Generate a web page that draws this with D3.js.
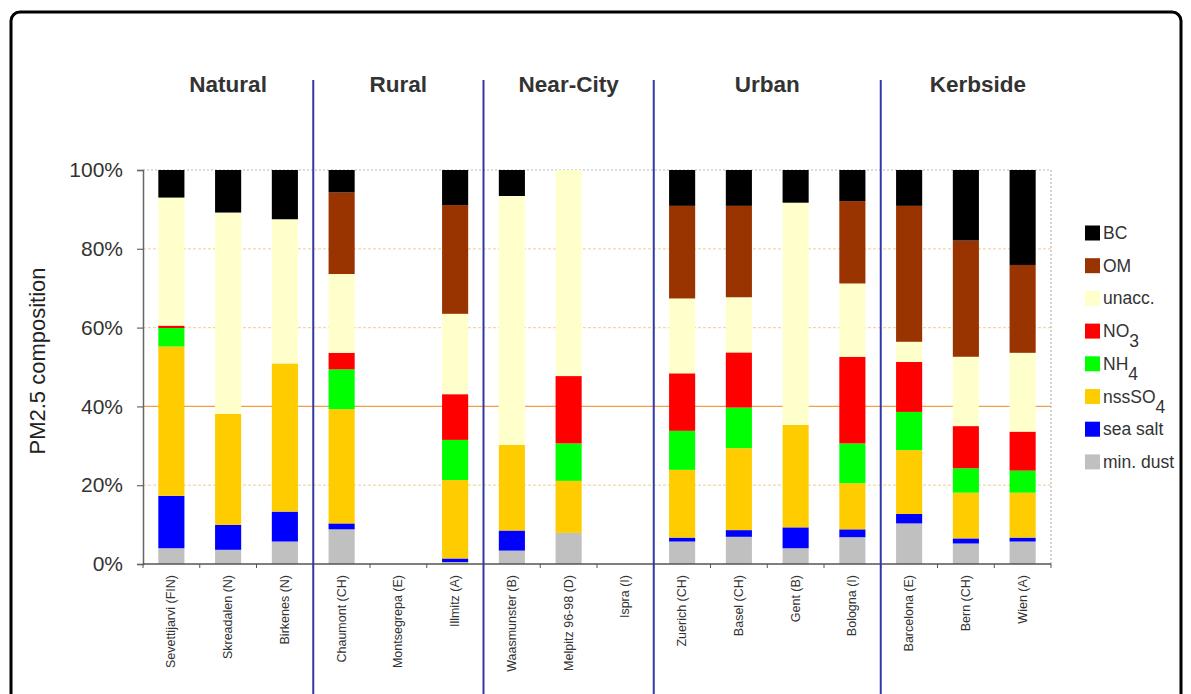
<!DOCTYPE html>
<html>
<head>
<meta charset="utf-8">
<script src="https://cdn.jsdelivr.net/npm/d3@7/dist/d3.min.js"></script>
<style>
  html, body { margin: 0; padding: 0; background: #fff; }
  svg { display: block; font-family: Arial, "Liberation Sans", sans-serif; }
</style>
</head>
<body>
<svg id="chart" width="1191" height="694"></svg>
<script>
// Sites, grouped by station type
const sites = [
  "Sevettijarvi (FIN)", "Skreadalen (N)", "Birkenes (N)",
  "Chaumont (CH)", "Montsegrepa (E)", "Illmitz (A)",
  "Waasmunster (B)", "Melpitz 96-98 (D)", "Ispra (I)",
  "Zuerich (CH)", "Basel (CH)", "Gent (B)", "Bologna (I)",
  "Barcelona (E)", "Bern (CH)", "Wien (A)"
];
const groups = ["Natural", "Rural", "Near-City", "Urban", "Kerbside"];
const groupSizes = [3, 3, 3, 4, 3];
const yTicks = [0, 20, 40, 60, 80, 100];

// PM2.5 composition in % (null = no data for that site)
const minDust  = [4.0, 3.6, 5.7, 8.8, null, 0.5, 3.4, 7.9, null, 5.7, 6.9, 4.0, 6.8, 10.3, 5.2, 5.7];
const seaSalt  = [13.3, 6.3, 7.6, 1.5, null, 0.9, 5.1, 0.0, null, 1.0, 1.7, 5.3, 2.0, 2.4, 1.3, 1.0];
const nssSO4   = [37.9, 28.2, 37.6, 29.0, null, 19.9, 21.7, 13.2, null, 17.2, 20.8, 26.0, 11.7, 16.2, 11.6, 11.4];
const NH4      = [4.7, 0.0, 0.0, 10.1, null, 10.2, 0.0, 9.5, null, 9.9, 10.3, 0.0, 10.1, 9.7, 6.2, 5.6];
const NO3      = [0.6, 0.0, 0.0, 4.2, null, 11.6, 0.0, 17.1, null, 14.6, 14.0, 0.0, 22.0, 12.7, 10.7, 9.9];
const unacc    = [32.5, 51.1, 36.6, 20.0, null, 20.4, 63.2, 52.3, null, 19.0, 14.0, 56.4, 18.6, 5.1, 17.6, 20.0];
const OM       = [0.0, 0.0, 0.0, 20.7, null, 27.6, 0.0, 0.0, null, 23.5, 23.2, 0.0, 20.9, 34.5, 29.5, 22.3];
const BC       = [7.0, 10.8, 12.5, 5.7, null, 8.9, 6.6, 0.0, null, 9.1, 9.1, 8.3, 7.9, 9.1, 17.9, 24.1];

// Components, bottom to top of each stack
const components = [
  { key: "min. dust", values: minDust, color: "#c0c0c0" },
  { key: "sea salt",  values: seaSalt, color: "#0000ff" },
  { key: "nssSO4",    values: nssSO4,  color: "#ffcc00", base: "nssSO", sub: "4" },
  { key: "NH4",       values: NH4,     color: "#00ff00", base: "NH", sub: "4" },
  { key: "NO3",       values: NO3,     color: "#ff0000", base: "NO", sub: "3" },
  { key: "unacc.",    values: unacc,   color: "#ffffcc" },
  { key: "OM",        values: OM,      color: "#993300" },
  { key: "BC",        values: BC,      color: "#000000" }
];

const svg = d3.select("#chart");
const plot = { left: 143, right: 1051, top: 170, bottom: 564 };

// Rounded frame around the figure
svg.append("rect")
  .attr("x", 11).attr("y", 12).attr("width", 1170).attr("height", 720)
  .attr("rx", 9).attr("fill", "none").attr("stroke", "#000").attr("stroke-width", 3);

const x = d3.scaleBand().domain(sites)
  .range([plot.left, plot.right]).paddingInner(0.54).paddingOuter(0.27);
const y = d3.scaleLinear().domain([0, 100]).range([plot.bottom, plot.top]);

// Horizontal gridlines
const grid = svg.append("g");
[20, 60, 80].forEach(v => {
  grid.append("line")
    .attr("x1", plot.left).attr("x2", plot.right)
    .attr("y1", y(v)).attr("y2", y(v))
    .attr("stroke", "#f2d7a6").attr("stroke-width", 1.2).attr("stroke-dasharray", "3,2");
});
grid.append("line")
  .attr("x1", plot.left).attr("x2", plot.right)
  .attr("y1", y(40)).attr("y2", y(40))
  .attr("stroke", "#f0a040").attr("stroke-width", 1.4);
// Dotted plot border (top and right)
grid.append("path")
  .attr("d", `M${plot.left},${y(100)}H${plot.right}V${plot.bottom}`)
  .attr("fill", "none").attr("stroke", "#b8b8b8").attr("stroke-width", 1.2)
  .attr("stroke-dasharray", "2,2");

// Stacked bars
const rows = sites.map((s, i) => {
  const r = { site: s };
  components.forEach(c => { r[c.key] = c.values[i] == null ? 0 : c.values[i]; });
  return r;
});
const stacked = d3.stack().keys(components.map(c => c.key))(rows);
svg.append("g").selectAll("g").data(stacked).join("g")
  .attr("fill", (d, i) => components[i].color)
  .selectAll("rect").data(d => d.filter(p => p[1] - p[0] > 0)).join("rect")
  .attr("x", d => x(d.data.site))
  .attr("width", x.bandwidth())
  .attr("y", d => y(d[1]))
  .attr("height", d => y(d[0]) - y(d[1]));

// Y axis
const yAxis = svg.append("g").attr("transform", `translate(${plot.left},0)`)
  .call(d3.axisLeft(y).tickValues(yTicks).tickFormat(d => d + "%").tickSize(6).tickPadding(14));
yAxis.select(".domain").attr("stroke", "#666").attr("stroke-width", 1.5);
yAxis.selectAll(".tick line").attr("stroke", "#666").attr("stroke-width", 1.2);
yAxis.selectAll(".tick text").attr("fill", "#333").attr("font-size", 21)
  .attr("font-family", "Arial, 'Liberation Sans', sans-serif");

// X axis with ticks between the categories
const xAxis = svg.append("g").attr("transform", `translate(0,${plot.bottom})`);
xAxis.append("line").attr("x1", plot.left).attr("x2", plot.right)
  .attr("stroke", "#555").attr("stroke-width", 1.5);
const step = x.step();
const boundaries = d3.range(sites.length + 1).map(i => x(sites[0]) - x.paddingOuter() * step + i * step);
xAxis.selectAll(".sep").data(boundaries).join("line")
  .attr("x1", d => d).attr("x2", d => d).attr("y1", 0).attr("y2", 4)
  .attr("stroke", "#555").attr("stroke-width", 1);
xAxis.selectAll(".site").data(sites).join("text")
  .attr("transform", d => `translate(${x(d) + x.bandwidth() / 2 + 4},11) rotate(-90)`)
  .attr("text-anchor", "end")
  .attr("font-size", 12.5).attr("fill", "#333")
  .text(d => d);

// Group separators and titles
let start = 0;
const groupCenters = [];
groupSizes.forEach((n, gi) => {
  const x0 = boundaries[start], x1 = boundaries[start + n];
  groupCenters.push((x0 + x1) / 2);
  if (gi > 0) {
    svg.append("line").attr("x1", x0).attr("x2", x0).attr("y1", 80).attr("y2", 694)
      .attr("stroke", "#3338a8").attr("stroke-width", 2);
  }
  start += n;
});
svg.append("g").selectAll("text").data(groups).join("text")
  .attr("x", (d, i) => groupCenters[i] + (i === 4 ? 12 : 0))
  .attr("y", 92)
  .attr("text-anchor", "middle")
  .attr("font-size", 22.5).attr("font-weight", "bold").attr("fill", "#333")
  .text(d => d);

// Y axis title
svg.append("text")
  .attr("transform", `translate(45,${(plot.top + plot.bottom) / 2 - 6}) rotate(-90)`)
  .attr("text-anchor", "middle")
  .attr("font-size", 22).attr("fill", "#222")
  .text("PM2.5 composition");

// Legend (top entry = top of stack)
const legendItems = components.slice().reverse();
const lg = svg.append("g");
legendItems.forEach((c, i) => {
  const cy = 233 + i * 32.7;
  lg.append("rect").attr("x", 1085).attr("y", cy - 7.5).attr("width", 15).attr("height", 15)
    .attr("fill", c.color);
  const t = lg.append("text").attr("x", 1103).attr("y", cy + 6)
    .attr("font-size", 17.5).attr("fill", "#333");
  if (c.sub) {
    t.append("tspan").text(c.base);
    t.append("tspan").attr("dy", 10).text(c.sub);
  } else {
    t.text(c.key);
  }
});
</script>
</body>
</html>
